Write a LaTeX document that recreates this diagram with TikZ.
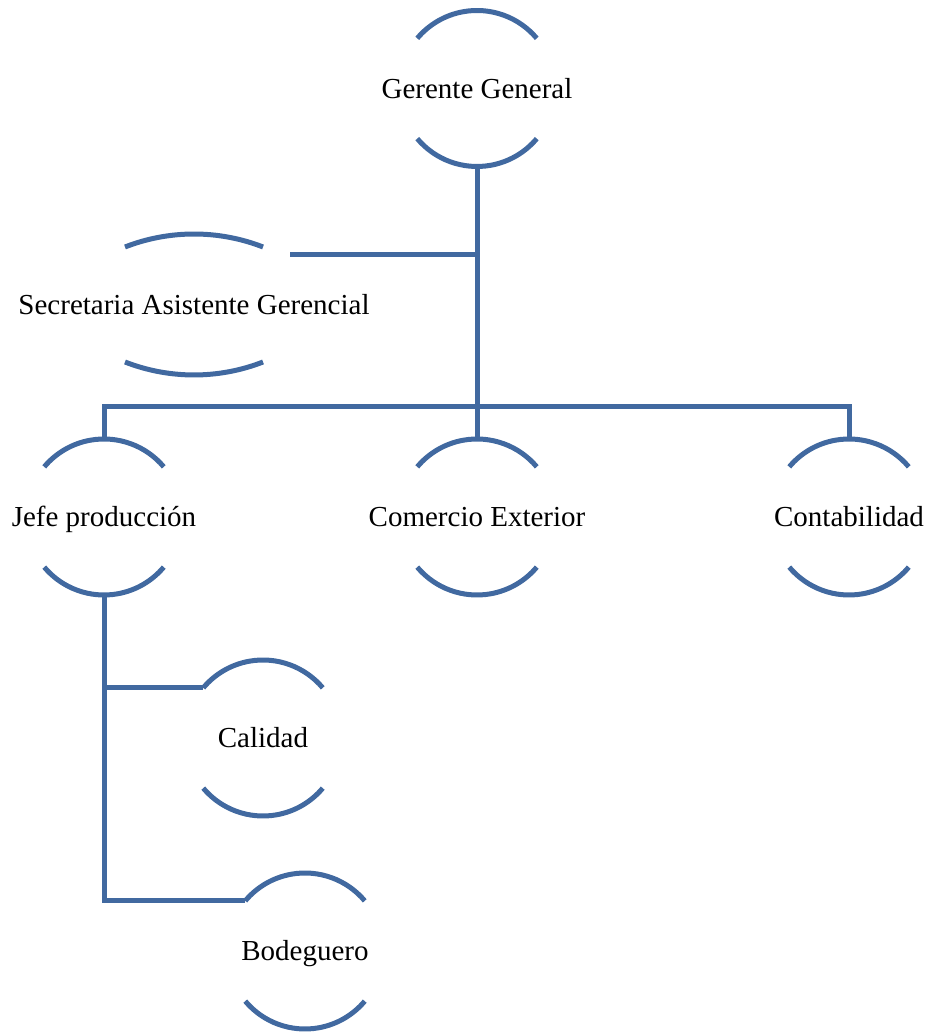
\documentclass[tikz,border=0pt]{standalone}
\usepackage{fontspec}
\setmainfont{Liberation Serif}
\usetikzlibrary{calc}
\definecolor{orgblue}{RGB}{65,105,160}
\tikzset{
  conn/.style={draw=orgblue, line width=5pt},
  arcline/.style={draw=orgblue, line width=5pt},
  lbl/.style={inner sep=0pt, text height=20pt, text depth=0pt, font=\fontsize{29}{34}\selectfont},
}
\newcommand\orgunit[4]{%
  \node[lbl] (#1) at (#2,#3) {#4};
  \draw[arcline] ($(#1)+(40:78)$) arc[start angle=40, end angle=140, radius=78];
  \draw[arcline] ($(#1)+(220:78)$) arc[start angle=220, end angle=320, radius=78];
  \coordinate (#1-top) at ($(#1)+(0,78)$);
  \coordinate (#1-bot) at ($(#1)+(0,-78)$);
  \coordinate (#1-tl) at ($(#1)+(140:78)$);
}
\begin{document}
\begin{tikzpicture}[x=1pt,y=1pt]
\useasboundingbox (0,0) rectangle (928,1032);
\orgunit{ger}{477}{943.5}{Gerente General}
\orgunit{jefe}{104}{515}{Jefe producción}
\orgunit{com}{477}{515}{Comercio Exterior}
\orgunit{cont}{849}{515}{Contabilidad}
\orgunit{cal}{263}{294}{Calidad}
\orgunit{bod}{305}{81}{Bodeguero}
% Secretaria
\node[lbl] (sec) at (194,727) {Secretaria Asistente Gerencial};
\draw[arcline] ($(sec)+(-69,58)$) arc[start angle=111.3, end angle=68.7, radius=190];
\draw[arcline] ($(sec)+(-69,-57)$) arc[start angle=248.7, end angle=291.3, radius=190];
\coordinate (sec-conn) at ($(sec)+(96,50)$);
\coordinate (bus) at (477,625);
% connectors
\draw[conn] (ger-bot) -- (com-top);
\draw[conn] (sec-conn) -- (sec-conn -| ger-bot);
\draw[conn] (jefe-top) -- (jefe-top |- bus) -- (cont-top |- bus) -- (cont-top);
\draw[conn] (jefe-bot) |- (bod-tl);
\draw[conn] (jefe-bot |- cal-tl) -- (cal-tl);
\end{tikzpicture}
\end{document}
